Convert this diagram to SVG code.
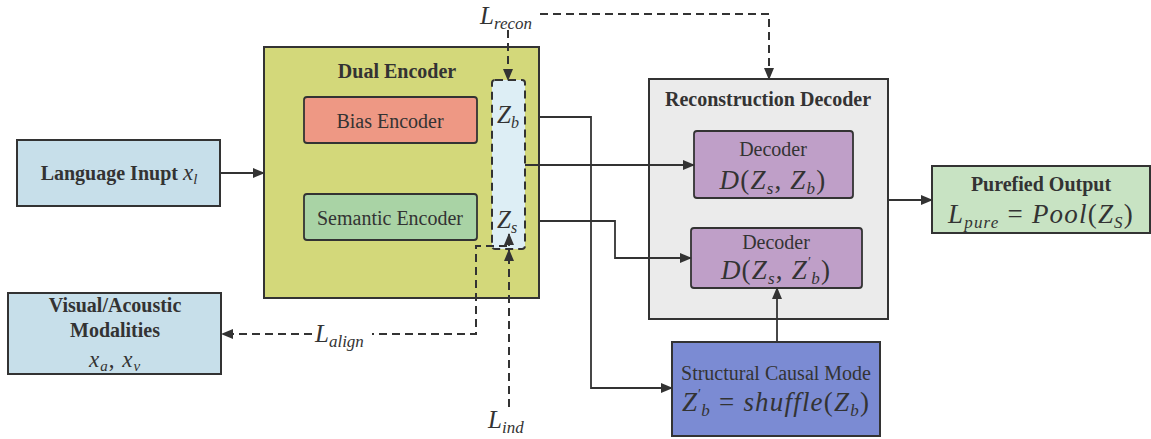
<svg xmlns="http://www.w3.org/2000/svg" width="1151" height="439" viewBox="0 0 1151 439">
<defs>
<style>
.box{stroke:#333;stroke-width:2}
.inner{stroke:#333;stroke-width:1.8}
.t{font-family:"Liberation Serif","Times New Roman",serif;fill:#333;font-size:20px}
.b{font-weight:bold;font-size:20px}
.m{font-family:"Liberation Serif","DejaVu Serif",serif;font-style:italic;fill:#333}
.f{font-size:27px;letter-spacing:1.2px}
.up{font-style:normal}
.c{stroke:#333;stroke-width:1.8;fill:none}
.d{stroke:#333;stroke-width:2;fill:none;stroke-dasharray:8 5}
</style>
<marker id="ah" markerWidth="12" markerHeight="10" refX="11" refY="5" orient="auto" markerUnits="userSpaceOnUse">
<path d="M0,0 L12,5 L0,10 Z" fill="#333"/>
</marker>
</defs>
<rect width="1151" height="439" fill="#fff"/>

<g id="language-input">
<rect class="box" x="17" y="140" width="203" height="66" fill="#c7dfea"/>
<text class="t b" x="119" y="180" text-anchor="middle">Language Inupt <tspan class="m" font-weight="normal" font-size="23">x<tspan font-size="15" dy="4">l</tspan></tspan></text>
</g>

<g id="visual-acoustic">
<rect class="box" x="8" y="293" width="213" height="81" fill="#c7dfea"/>
<text class="t b" x="115" y="312" text-anchor="middle">Visual/Acoustic</text>
<text class="t b" x="115" y="337" text-anchor="middle">Modalities</text>
<text class="m" x="115" y="367" text-anchor="middle" font-size="23" letter-spacing="1">x<tspan font-size="15" dy="4">a</tspan><tspan class="up" dy="-4">, </tspan>x<tspan font-size="15" dy="4">v</tspan></text>
</g>

<g id="dual-encoder">
<rect class="box" x="264" y="47" width="275" height="251" fill="#d3d87a"/>
<text class="t b" x="397" y="78" text-anchor="middle">Dual Encoder</text>
</g>

<g id="bias-encoder">
<rect class="inner" x="304" y="97" width="173" height="46" rx="3" fill="#ee9884"/>
<text class="t" x="390" y="128" text-anchor="middle">Bias Encoder</text>
</g>

<g id="semantic-encoder">
<rect class="inner" x="304" y="194" width="173" height="46" rx="3" fill="#a9d3a5"/>
<text class="t" x="390" y="225" text-anchor="middle">Semantic Encoder</text>
</g>

<g id="latent-z">
<rect x="492" y="80" width="33" height="169" rx="3" fill="#ddeef5" stroke="#333" stroke-width="2" stroke-dasharray="8 5"/>
<text class="m" x="497" y="123" font-size="25">Z<tspan font-size="16" dy="5">b</tspan></text>
<text class="m" x="497" y="228" font-size="25">Z<tspan font-size="16" dy="5">s</tspan></text>
</g>

<g id="reconstruction-decoder">
<rect class="box" x="649" y="79" width="239" height="240" fill="#ebebeb"/>
<text class="t b" x="768" y="106" text-anchor="middle">Reconstruction Decoder</text>
</g>

<g id="decoder-1">
<rect class="inner" x="694" y="131" width="159" height="67" rx="3" fill="#bf9fc8"/>
<text class="t" x="773" y="156" text-anchor="middle">Decoder</text>
<text class="m f" x="773" y="189" text-anchor="middle">D<tspan class="up">(</tspan>Z<tspan font-size="17" dy="5">s</tspan><tspan class="up" dy="-5">, </tspan>Z<tspan font-size="17" dy="5">b</tspan><tspan class="up" dy="-5">)</tspan></text>
</g>

<g id="decoder-2">
<rect class="inner" x="691" y="228" width="171" height="60" rx="3" fill="#bf9fc8"/>
<text class="t" x="776" y="249" text-anchor="middle">Decoder</text>
<text class="m f" x="776" y="279" text-anchor="middle">D<tspan class="up">(</tspan>Z<tspan font-size="17" dy="5">s</tspan><tspan class="up" dy="-5">, </tspan>Z<tspan class="up" font-size="14" dy="-12">′</tspan><tspan font-size="17" dx="-1" dy="17">b</tspan><tspan class="up" dy="-5">)</tspan></text>
</g>

<g id="purified-output">
<rect class="box" x="932" y="166" width="218" height="67" fill="#c8e3c3"/>
<text class="t b" x="1041" y="191" text-anchor="middle">Purefied Output</text>
<text class="m f" x="1041" y="223" text-anchor="middle">L<tspan font-size="17" dy="5">pure</tspan><tspan class="up" dy="-5"> = </tspan>Pool<tspan class="up">(</tspan>Z<tspan font-size="17" dy="5">S</tspan><tspan class="up" dy="-5">)</tspan></text>
</g>

<g id="structural-causal-model">
<rect class="box" x="672" y="342" width="208" height="94" fill="#7b8bd3"/>
<text class="t" x="776" y="380" text-anchor="middle">Structural Causal Mode</text>
<text class="m f" x="776" y="411" text-anchor="middle">Z<tspan class="up" font-size="14" dy="-12">′</tspan><tspan font-size="17" dx="-1" dy="17">b</tspan><tspan class="up" dy="-5"> = </tspan>shuffle<tspan class="up">(</tspan>Z<tspan font-size="17" dy="5">b</tspan><tspan class="up" dy="-5">)</tspan></text>
</g>

<g id="loss-labels">
<text class="m" x="480" y="24" font-size="25">L<tspan font-size="17" dy="5">recon</tspan></text>
<text class="m" x="315" y="342" font-size="25">L<tspan font-size="17" dy="5">align</tspan></text>
<text class="m" x="488" y="428" font-size="25">L<tspan font-size="17" dy="5">ind</tspan></text>
</g>

<g id="connectors">
<path class="c" d="M220,173 H264" marker-end="url(#ah)"/>
<path class="c" d="M539,117 H591 V388 H672" marker-end="url(#ah)"/>
<path class="c" d="M525,165 H694" marker-end="url(#ah)"/>
<path class="c" d="M539,221 H615 V258 H691" marker-end="url(#ah)"/>
<path class="c" d="M777,342 V288" marker-end="url(#ah)"/>
<path class="c" d="M888,200 H932" marker-end="url(#ah)"/>
<path class="d" d="M540,14 H769 V79" marker-end="url(#ah)"/>
<path class="d" d="M508,30 V80" marker-end="url(#ah)"/>
<path class="d" d="M507,246 H476 V334 H372"/>
<path class="d" d="M312,334 H222" marker-end="url(#ah)"/>
<path class="d" d="M509,407 V250" marker-end="url(#ah)"/>
<path class="c" d="M509,246 V234" marker-end="url(#ah)"/>
</g>
</svg>
